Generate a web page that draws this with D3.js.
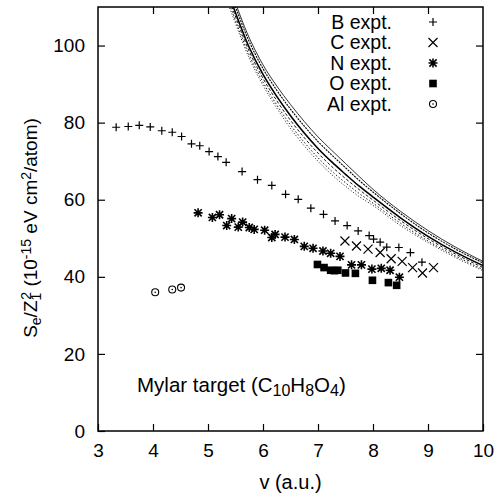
<!DOCTYPE html>
<html>
<head>
<meta charset="utf-8">
<script src="https://cdn.jsdelivr.net/npm/d3@7"></script>
<style>
  body { margin: 0; background: #fff; }
  svg text { font-family: "Liberation Sans", Arial, Helvetica, sans-serif; fill: #000; }
</style>
</head>
<body>
<div id="chart"></div>
<script>
const width = 500;
const height = 497;

// experimental points, [v (a.u.), Se/Z1^2]
const boronExpt = [
  [3.33, 78.8], [3.55, 79.0], [3.75, 79.3], [3.95, 78.9], [4.16, 77.9], [4.35, 77.5],
  [4.52, 76.4], [4.70, 74.5], [4.85, 74.0], [5.02, 72.5], [5.18, 71.2], [5.33, 69.7],
  [5.62, 67.3], [5.90, 65.2], [6.16, 63.7], [6.41, 61.4], [6.64, 60.1], [6.87, 57.8],
  [7.10, 56.2], [7.31, 54.5], [7.53, 53.3], [7.73, 51.9], [7.93, 50.7], [8.01, 49.8],
  [8.13, 49.0], [8.25, 47.7], [8.47, 47.6], [8.68, 46.3], [8.89, 43.8]
];
const carbonExpt = [
  [7.49, 49.3], [7.70, 48.0], [7.91, 47.2], [8.13, 46.3], [8.33, 44.7], [8.53, 44.0],
  [8.72, 42.4], [8.90, 41.0], [9.10, 42.4]
];
const nitrogenExpt = [
  [4.82, 56.6], [5.08, 55.4], [5.21, 56.1], [5.34, 53.3], [5.43, 55.1], [5.55, 52.9],
  [5.63, 54.2], [5.75, 52.8], [5.84, 52.3], [6.03, 52.1], [6.16, 50.2], [6.22, 51.0],
  [6.40, 50.3], [6.57, 49.7], [6.75, 47.9], [6.91, 47.4], [7.09, 46.7], [7.23, 46.1],
  [7.40, 45.3], [7.61, 43.1], [7.79, 43.1], [7.98, 42.0], [8.15, 42.2], [8.31, 41.7],
  [8.48, 39.9]
];
const oxygenExpt = [
  [6.99, 43.2], [7.11, 42.4], [7.23, 41.7], [7.30, 41.6], [7.36, 41.7], [7.50, 41.0],
  [7.68, 40.9], [7.99, 39.1], [8.28, 38.5], [8.43, 37.8]
];
const aluminiumExpt = [[4.04, 36.0], [4.35, 36.7], [4.51, 37.2]];

// theory curves
const theorySolid = [[5.3, 116.0], [5.4, 112.3], [5.75, 99.5], [6.0, 92.5], [6.25, 86.8], [6.5, 81.8],
  [6.75, 77.3], [7.0, 73.3], [7.25, 69.8], [7.5, 66.6], [7.75, 63.5], [8.0, 60.7], [8.5, 55.3],
  [9.0, 50.5], [9.5, 46.4], [10, 42.9]];
const theoryFineDash = [[5.3, 117.5], [5.4, 113.8], [5.75, 101.0], [6.0, 94.0], [6.25, 88.4], [6.5, 83.5],
  [6.75, 79.1], [7.0, 75.1], [7.25, 71.6], [7.5, 68.3], [7.75, 65.0], [8.0, 62.0], [8.5, 56.4],
  [9.0, 51.4], [9.5, 47.2], [10, 43.6]];
const theorySolidThin = [[5.3, 118.5], [5.4, 114.8], [5.75, 102.0], [6.0, 95.0], [6.25, 89.5], [6.5, 84.7],
  [6.75, 80.3], [7.0, 76.3], [7.25, 72.8], [7.5, 69.4], [7.75, 66.0], [8.0, 62.7], [8.5, 57.0],
  [9.0, 52.0], [9.5, 47.7], [10, 44.0]];
const theoryDash = [[5.3, 115.0], [5.4, 111.3], [5.75, 98.5], [6.0, 91.5], [6.25, 85.7], [6.5, 80.6],
  [6.75, 76.1], [7.0, 72.1], [7.25, 68.6], [7.5, 65.5], [7.75, 62.6], [8.0, 59.9], [8.5, 54.6],
  [9.0, 49.9], [9.5, 45.9], [10, 42.4]];
const theoryDot1 = [[5.3, 114.0], [5.4, 110.3], [5.75, 97.5], [6.0, 90.5], [6.25, 84.6], [6.5, 79.4],
  [6.75, 74.9], [7.0, 70.9], [7.25, 67.4], [7.5, 64.4], [7.75, 61.6], [8.0, 59.1], [8.5, 53.9],
  [9.0, 49.3], [9.5, 45.4], [10, 41.9]];
const theoryDot2 = [[5.2, 117.0], [5.3, 113.2], [5.4, 109.5], [5.75, 96.7], [6.0, 89.7], [6.25, 83.8],
  [6.5, 78.5], [6.75, 74.0], [7.0, 70.0], [7.25, 66.5], [7.5, 63.5], [7.75, 60.8], [8.0, 58.5],
  [8.5, 53.3], [9.0, 48.9], [9.5, 45.0], [10, 41.6]];

const xTicks = [3, 4, 5, 6, 7, 8, 9, 10];
const yTicks = [0, 20, 40, 60, 80, 100];
const legendLabels = ['B expt.', 'C expt.', 'N expt.', 'O expt.', 'Al expt.'];

const margin = { left: 98, right: 17, top: 7, bottom: 66 };

const svg = d3.select('#chart')
  .append('svg')
  .attr('width', width)
  .attr('height', height);

const x = d3.scaleLinear().domain([3, 10]).range([margin.left, width - margin.right]);
const y = d3.scaleLinear().domain([0, 110]).range([height - margin.bottom, margin.top]);

svg.append('clipPath').attr('id', 'plot-clip')
  .append('rect')
  .attr('x', x(3)).attr('y', y(110))
  .attr('width', x(10) - x(3)).attr('height', y(0) - y(110));

// axes, ticks pointing inward
function styleAxis(g) {
  g.select('.domain').remove();
  g.selectAll('.tick line').attr('stroke', '#000').attr('stroke-width', 1.2);
  g.selectAll('.tick text').style('font-size', '19px');
}

svg.append('g')
  .attr('transform', `translate(0,${y(0)})`)
  .call(d3.axisBottom(x).tickValues(xTicks).tickSize(-7).tickPadding(13).tickFormat(d3.format('d')))
  .call(styleAxis);
svg.append('g')
  .attr('transform', `translate(0,${y(110)})`)
  .call(d3.axisTop(x).tickValues(xTicks.slice(1, -1)).tickSize(-7).tickFormat(''))
  .call(styleAxis);
svg.append('g')
  .attr('transform', `translate(${x(3)},0)`)
  .call(d3.axisLeft(y).tickValues(yTicks).tickSize(-7).tickPadding(13).tickFormat(d3.format('d')))
  .call(styleAxis);
svg.append('g')
  .attr('transform', `translate(${x(10)},0)`)
  .call(d3.axisRight(y).tickValues(yTicks.slice(1)).tickSize(-7).tickFormat(''))
  .call(styleAxis);

// theory curves
const lineFunction = d3.line()
  .x(function(d) { return x(d[0]); })
  .y(function(d) { return y(d[1]); })
  .curve(d3.curveMonotoneX);

const curves = [
  { data: theoryDot2, dash: '1,2', w: 0.9 },
  { data: theoryDot1, dash: '1.5,2', w: 0.9 },
  { data: theoryDash, dash: '3,2', w: 0.9 },
  { data: theorySolid, dash: null, w: 1.6 },
  { data: theoryFineDash, dash: '2,1', w: 1.1 },
  { data: theorySolidThin, dash: null, w: 0.8 }
];
const curveG = svg.append('g').attr('clip-path', 'url(#plot-clip)');
curves.forEach(function(c) {
  curveG.append('path')
    .attr('d', lineFunction(c.data))
    .attr('fill', 'none')
    .attr('stroke', '#000')
    .attr('stroke-width', c.w)
    .attr('stroke-dasharray', c.dash);
});

// markers
const plusPath = 'M-4,0H4M0,-4V4';
const timesPath = 'M-4.5,-4.5L4.5,4.5M-4.5,4.5L4.5,-4.5';
const starPath = 'M-4.5,0H4.5M0,-4.5V4.5M-3.6,-3.6L3.6,3.6M-3.6,3.6L3.6,-3.6';

function drawMarker(g, kind) {
  if (kind === 'plus' || kind === 'times' || kind === 'star') {
    const p = kind === 'plus' ? plusPath : kind === 'times' ? timesPath : starPath;
    g.append('path').attr('d', p).attr('stroke', '#000')
      .attr('stroke-width', kind === 'star' ? 1.6 : 1.2).attr('fill', 'none');
  } else if (kind === 'square') {
    g.append('rect').attr('x', -3.8).attr('y', -3.8).attr('width', 7.6).attr('height', 7.6).attr('fill', '#000');
  } else {
    g.append('circle').attr('r', 3.5).attr('fill', 'none').attr('stroke', '#000').attr('stroke-width', 1.1);
    g.append('circle').attr('r', 0.8).attr('fill', '#000');
  }
}

const seriesList = [
  { data: boronExpt, kind: 'plus' },
  { data: carbonExpt, kind: 'times' },
  { data: nitrogenExpt, kind: 'star' },
  { data: oxygenExpt, kind: 'square' },
  { data: aluminiumExpt, kind: 'circle' }
];

seriesList.forEach(function(s) {
  s.data.forEach(function(d) {
    const g = svg.append('g').attr('transform', `translate(${x(d[0])},${y(d[1])})`);
    drawMarker(g, s.kind);
  });
});

// frame
svg.append('rect')
  .attr('x', x(3)).attr('y', y(110))
  .attr('width', x(10) - x(3)).attr('height', y(0) - y(110))
  .attr('fill', 'none').attr('stroke', '#000').attr('stroke-width', 1.5);

// legend
legendLabels.forEach(function(label, i) {
  const ly = 22 + i * 20.5;
  svg.append('text')
    .attr('x', 392).attr('y', ly).attr('dy', '0.35em')
    .attr('text-anchor', 'end')
    .style('font-size', '19.5px')
    .text(label);
  const g = svg.append('g').attr('transform', `translate(433,${ly})`);
  drawMarker(g, seriesList[i].kind);
});

// axis titles
svg.append('text')
  .attr('x', (x(3) + x(10)) / 2).attr('y', 489)
  .attr('text-anchor', 'middle')
  .style('font-size', '20px')
  .text('v (a.u.)');

const yLabel = svg.append('text')
  .attr('transform', 'translate(37,228) rotate(-90)')
  .attr('text-anchor', 'middle')
  .style('font-size', '19px');
yLabel.append('tspan').text('S');
yLabel.append('tspan').attr('baseline-shift', '-25%').style('font-size', '14px').text('e');
yLabel.append('tspan').text('/Z');
yLabel.append('tspan').attr('baseline-shift', '-25%').style('font-size', '14px').text('1');
yLabel.append('tspan').attr('dx', '-7').attr('baseline-shift', '45%').style('font-size', '14px').text('2');
yLabel.append('tspan').text(' (10');
yLabel.append('tspan').attr('baseline-shift', '45%').style('font-size', '14px').text('-15');
yLabel.append('tspan').text(' eV cm');
yLabel.append('tspan').attr('baseline-shift', '45%').style('font-size', '14px').text('2');
yLabel.append('tspan').text('/atom)');

const mylar = svg.append('text')
  .attr('x', 137).attr('y', 392)
  .style('font-size', '20.5px');
mylar.append('tspan').text('Mylar target (C');
mylar.append('tspan').attr('baseline-shift', '-25%').style('font-size', '16px').text('10');
mylar.append('tspan').text('H');
mylar.append('tspan').attr('baseline-shift', '-25%').style('font-size', '16px').text('8');
mylar.append('tspan').text('O');
mylar.append('tspan').attr('baseline-shift', '-25%').style('font-size', '16px').text('4');
mylar.append('tspan').text(')');
</script>
</body>
</html>
